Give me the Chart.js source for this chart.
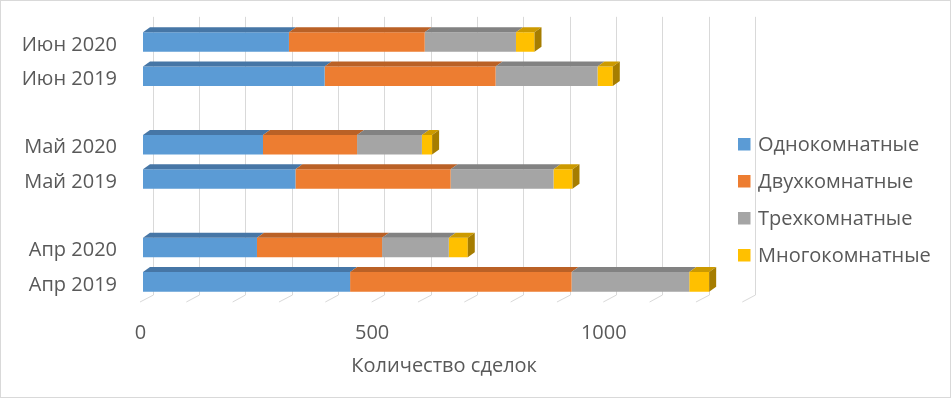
<!DOCTYPE html>
<html>
<head>
<meta charset="utf-8">
<script src="https://cdn.jsdelivr.net/npm/chart.js@4"></script>
<style>
  html, body { margin: 0; padding: 0; background: #fff; }
  #wrap { width: 951px; height: 398px; position: relative; }
</style>
</head>
<body>
<div id="wrap"><canvas id="c" width="951" height="398"></canvas></div>
<script>
// ---- data (top-to-bottom order, blank = gap between months) ----
const categories = ['Июн 2020', 'Июн 2019', '', 'Май 2020', 'Май 2019', '', 'Апр 2020', 'Апр 2019'];
const oneRoom   = [315, 392, null, 259, 329, null, 246, 447];
const twoRoom   = [293, 369, null, 203, 335, null, 270, 478];
const threeRoom = [197, 220, null, 140, 222, null, 144, 254];
const multiRoom = [ 40,  33, null,  22,  41, null,  41,  43];
const seriesNames = ['Однокомнатные', 'Двухкомнатные', 'Трехкомнатные', 'Многокомнатные'];
const xTickLabels = [0, 500, 1000];
const xGridValues = [0, 100, 200, 300, 400, 500, 600, 700, 800, 900, 1000, 1100, 1200, 1300];
const axisTitle = 'Количество сделок';

const FONT = "'Open Sans', sans-serif";
const TEXT = '#595959';
const frontColors = ['#5B9BD5', '#ED7D31', '#A5A5A5', '#FFC000'];
const topColors   = ['#4676A6', '#BA6126', '#828282', '#CC9A00'];
const sideColors  = ['#3A6590', '#A0521F', '#6E6E6E', '#A67D00'];
const DX = 7, DY = 5;          // bar depth
const WX = 9.7, WY = 7;        // back wall offset

const borderPlugin = {
  id: 'bg',
  beforeDraw(chart) {
    const ctx = chart.ctx;
    ctx.save();
    ctx.fillStyle = '#fff';
    ctx.fillRect(0, 0, chart.width, chart.height);
    ctx.strokeStyle = '#D9D9D9';
    ctx.lineWidth = 1;
    ctx.strokeRect(0.5, 0.5, chart.width - 1, chart.height - 1);
    ctx.restore();
  }
};

const wallPlugin = {
  id: 'wall',
  beforeDatasetsDraw(chart) {
    const ctx = chart.ctx, xs = chart.scales.x, area = chart.chartArea;
    const backBottom = area.bottom - 4;
    ctx.save();
    ctx.strokeStyle = '#D9D9D9';
    ctx.lineWidth = 1;
    xGridValues.forEach(v => {
      const xf = xs.getPixelForValue(v);
      const xb = Math.round(xf + WX) + 0.5;
      ctx.beginPath();
      ctx.moveTo(xb, area.top - 8);
      ctx.lineTo(xb, backBottom);
      ctx.lineTo(xf - 3, backBottom + WY);
      ctx.stroke();
    });
    ctx.restore();
  }
};

const depthPlugin = {
  id: 'depth',
  afterDatasetsDraw(chart) {
    const ctx = chart.ctx;
    const n = chart.data.datasets.length;
    ctx.save();
    chart.data.datasets.forEach((ds, di) => {
      const meta = chart.getDatasetMeta(di);
      meta.data.forEach((bar, i) => {
        if (ds.data[i] == null) return;
        const p = bar.getProps(['x', 'y', 'base', 'height'], true);
        const top = p.y - p.height / 2, bot = p.y + p.height / 2;
        const x0 = Math.min(p.base, p.x), x1 = Math.max(p.base, p.x);
        ctx.fillStyle = topColors[di];
        ctx.beginPath();
        ctx.moveTo(x0, top);
        ctx.lineTo(x1, top);
        ctx.lineTo(x1 + DX, top - DY);
        ctx.lineTo(x0 + DX, top - DY);
        ctx.closePath();
        ctx.fill();
        if (di === n - 1) {
          ctx.fillStyle = sideColors[di];
          ctx.beginPath();
          ctx.moveTo(x1, top);
          ctx.lineTo(x1 + DX, top - DY);
          ctx.lineTo(x1 + DX, bot - DY);
          ctx.lineTo(x1, bot);
          ctx.closePath();
          ctx.fill();
        }
      });
    });
    ctx.restore();
  }
};

const legendPlugin = {
  id: 'sideLegend',
  afterDraw(chart) {
    const ctx = chart.ctx;
    ctx.save();
    ctx.font = '20px ' + FONT;
    ctx.textBaseline = 'middle';
    ctx.textAlign = 'left';
    chart.data.datasets.forEach((ds, i) => {
      const cy = 144 + i * 37;
      ctx.fillStyle = ds.backgroundColor;
      ctx.fillRect(738, cy - 6, 12.5, 12.5);
      ctx.fillStyle = TEXT;
      ctx.fillText(ds.label, 758, cy + 1);
    });
    ctx.restore();
  }
};

function build() {
  const seriesData = [oneRoom, twoRoom, threeRoom, multiRoom];
  new Chart(document.getElementById('c'), {
    type: 'bar',
    data: {
      labels: categories,
      datasets: seriesNames.map((name, i) => ({
        label: name,
        data: seriesData[i],
        backgroundColor: frontColors[i],
        borderWidth: 0,
        categoryPercentage: 1,
        barPercentage: 0.57
      }))
    },
    options: {
      indexAxis: 'y',
      responsive: false,
      animation: false,
      devicePixelRatio: 1,
      layout: { padding: { left: 0, top: 24.85, right: 205.7, bottom: 0 } },
      plugins: { legend: { display: false }, tooltip: { enabled: false } },
      scales: {
        x: {
          stacked: true,
          min: 0,
          max: 1300,
          grid: { display: false },
          border: { display: false },
          afterFit(s) { s.height = 99; s.paddingLeft = 0; s.paddingRight = 0; },
          afterBuildTicks(s) { s.ticks = xTickLabels.map(v => ({ value: v })); },
          ticks: {
            autoSkip: false,
            maxRotation: 0,
            padding: 14,
            labelOffset: -2.5,
            color: TEXT,
            font: { family: FONT, size: 20 },
            callback: v => String(v)
          },
          title: {
            display: true,
            text: axisTitle,
            color: TEXT,
            font: { family: FONT, size: 20 },
            padding: { top: 0, bottom: 20 }
          }
        },
        y: {
          stacked: true,
          grid: { display: false, drawTicks: false },
          border: { display: false },
          afterFit(s) { s.width = 143; s.paddingTop = 0; s.paddingBottom = 0; },
          ticks: {
            padding: 26,
            labelOffset: 3,
            color: TEXT,
            font: { family: FONT, size: 20 }
          }
        }
      }
    },
    plugins: [borderPlugin, wallPlugin, depthPlugin, legendPlugin]
  });
}

if (document.fonts && document.fonts.load) {
  document.fonts.load("20px 'Open Sans'").then(build, build);
} else {
  build();
}
</script>
</body>
</html>
